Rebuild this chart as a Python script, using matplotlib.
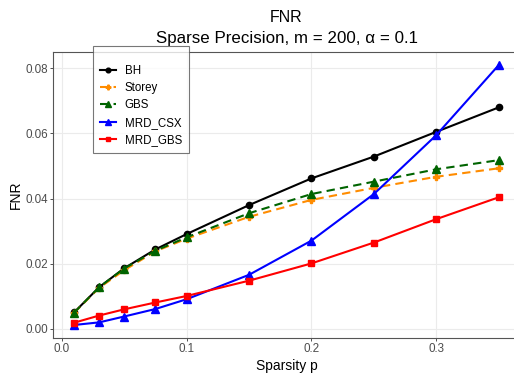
import matplotlib
matplotlib.use('Agg')
import matplotlib.pyplot as plt

# 数据
p = [0.01, 0.03, 0.05, 0.075, 0.1, 0.15, 0.2, 0.25, 0.3, 0.35]
bh = [0.0051, 0.0128, 0.0186, 0.0244, 0.0291, 0.0380, 0.0462, 0.0529, 0.0605, 0.0680]
storey = [0.0050, 0.0126, 0.0180, 0.0238, 0.0277, 0.0344, 0.0396, 0.0433, 0.0467, 0.0493]
gbs = [0.0050, 0.0128, 0.0185, 0.0240, 0.0281, 0.0355, 0.0414, 0.0452, 0.0490, 0.0518]
mrd_csx = [0.0012, 0.0020, 0.0038, 0.0061, 0.0091, 0.0166, 0.0271, 0.0414, 0.0595, 0.0810]
mrd_gbs = [0.0019, 0.0041, 0.0060, 0.0081, 0.0101, 0.0148, 0.0201, 0.0265, 0.0337, 0.0404]

x_ticks = [0.0, 0.1, 0.2, 0.3]
x_labels = ['0.0', '0.1', '0.2', '0.3']
y_ticks = [0.00, 0.02, 0.04, 0.06, 0.08]
y_labels = ['0.00', '0.02', '0.04', '0.06', '0.08']

plt.rcParams['font.family'] = ['Liberation Sans', 'DejaVu Sans']

fig = plt.figure(figsize=(5.14, 3.77), dpi=100)
ax = fig.add_axes([53 / 514, 1 - 338 / 377, 467 / 514, 286 / 377])

lw = 1.5
ax.plot(p, bh, color='black', lw=lw, marker='o', ms=4.5, label='BH', zorder=3)
ax.plot(p, storey, color='darkorange', lw=lw, ls=(0, (4, 2.5)), marker='P', ms=4.5, label='Storey', zorder=3)
ax.plot(p, gbs, color='darkgreen', lw=lw, ls=(0, (4, 2.5)), marker='^', ms=5.5, label='GBS', zorder=3)
ax.plot(p, mrd_csx, color='blue', lw=lw, marker='^', ms=5.5, label='MRD_CSX', zorder=3)
ax.plot(p, mrd_gbs, color='red', lw=lw, marker='s', ms=4.5, label='MRD_GBS', zorder=3)

ax.set_xlim(-0.007, 0.367)
ax.set_ylim(-0.0028, 0.085)
ax.set_xticks(x_ticks)
ax.set_xticklabels(x_labels)
ax.set_yticks(y_ticks)
ax.set_yticklabels(y_labels)
ax.grid(True, color='#EBEBEB', lw=0.8, zorder=0)
ax.set_axisbelow(True)
for s in ax.spines.values():
    s.set_color('#555555')
    s.set_linewidth(0.8)
ax.tick_params(colors='#333333', labelcolor='#4D4D4D', labelsize=8.4, length=2.2, width=0.6, pad=1.5)

ax.set_xlabel('Sparsity p', fontsize=10, labelpad=3)
ax.set_ylabel('FNR', fontsize=10)
ax.yaxis.set_label_coords(-0.064, 0.5)

fig.text(286 / 514, 1 - 17 / 377, 'FNR', ha='center', va='center', fontsize=11.5)
fig.text(287 / 514, 1 - 38 / 377, 'Sparse Precision, m = 200, α = 0.1', ha='center', va='center', fontsize=12.2)

handles, labels = ax.get_legend_handles_labels()
leg = fig.legend(handles, labels, loc='upper left', bbox_to_anchor=(93 / 514, 1 - 46 / 377), fontsize=8.3,
                 frameon=True, fancybox=False, edgecolor='#555555', handlelength=1.4, markerscale=0.75,
                 borderpad=0.6, labelspacing=0.45, handletextpad=0.75, borderaxespad=0,
                 title=' ', title_fontsize=5.5)
leg.get_frame().set_linewidth(0.8)

fig.savefig('out.png', dpi=100)
